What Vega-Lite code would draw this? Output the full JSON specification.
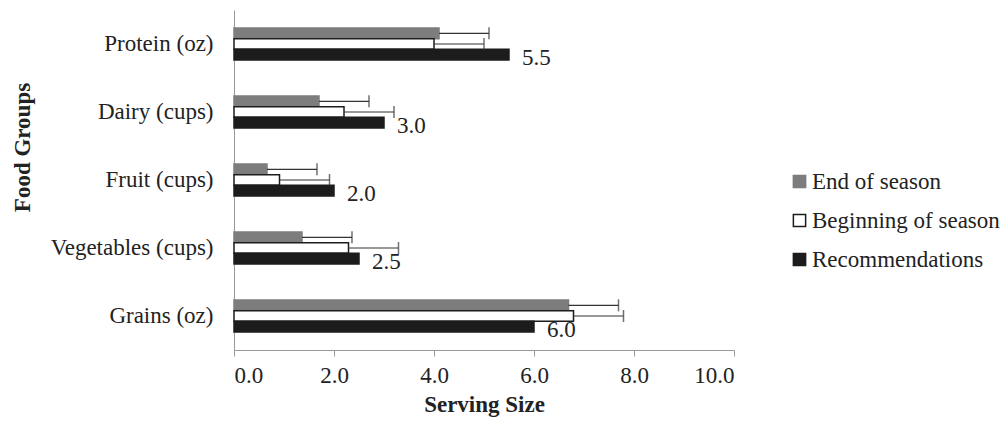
{
  "$schema": "https://vega.github.io/schema/vega-lite/v6.json",
  "width": 500,
  "height": 340,
  "autosize": {"type": "none"},
  "padding": {"left": 234, "top": 10, "right": 274, "bottom": 74},
  "config": {
    "font": "Times New Roman, Liberation Serif, serif",
    "view": {"stroke": null},
    "axis": {"grid": false, "labelFont": "Times New Roman, Liberation Serif, serif", "titleFont": "Times New Roman, Liberation Serif, serif", "labelColor": "#222", "titleColor": "#222", "domainColor": "#999", "tickColor": "#999"},
    "legend": {
      "orient": "none", "legendX": 554, "legendY": 160, "title": null,
      "symbolType": "square", "symbolSize": 150, "symbolStrokeWidth": 1.5,
      "labelFontSize": 23, "labelFont": "Times New Roman, Liberation Serif, serif", "labelColor": "#222",
      "rowPadding": 15, "labelOffset": 1, "labelLimit": 400
    }
  },
  "data": {
    "values": [
      {"group": "Protein (oz)", "series": "End of season", "value": 4.1, "hi": 5.1},
      {"group": "Protein (oz)", "series": "Beginning of season", "value": 4.0, "hi": 5.0},
      {"group": "Protein (oz)", "series": "Recommendations", "value": 5.5, "hi": null},
      {"group": "Dairy (cups)", "series": "End of season", "value": 1.7, "hi": 2.7},
      {"group": "Dairy (cups)", "series": "Beginning of season", "value": 2.2, "hi": 3.2},
      {"group": "Dairy (cups)", "series": "Recommendations", "value": 3.0, "hi": null},
      {"group": "Fruit (cups)", "series": "End of season", "value": 0.66, "hi": 1.66},
      {"group": "Fruit (cups)", "series": "Beginning of season", "value": 0.91, "hi": 1.91},
      {"group": "Fruit (cups)", "series": "Recommendations", "value": 2.0, "hi": null},
      {"group": "Vegetables (cups)", "series": "End of season", "value": 1.36, "hi": 2.36},
      {"group": "Vegetables (cups)", "series": "Beginning of season", "value": 2.29, "hi": 3.29},
      {"group": "Vegetables (cups)", "series": "Recommendations", "value": 2.5, "hi": null},
      {"group": "Grains (oz)", "series": "End of season", "value": 6.69, "hi": 7.69},
      {"group": "Grains (oz)", "series": "Beginning of season", "value": 6.79, "hi": 7.79},
      {"group": "Grains (oz)", "series": "Recommendations", "value": 6.0, "hi": null}
    ]
  },
  "encoding": {
    "y": {
      "field": "group", "type": "nominal",
      "sort": ["Protein (oz)", "Dairy (cups)", "Fruit (cups)", "Vegetables (cups)", "Grains (oz)"],
      "scale": {"paddingInner": 0.53, "paddingOuter": 0.265},
      "axis": {
        "title": "Food Groups", "titleFontSize": 23, "titleFontWeight": "bold",
        "titleAngle": -90, "titleX": -212, "titleY": 137, "titleAlign": "center", "titleBaseline": "middle",
        "labelFontSize": 23, "ticks": false, "tickSize": 0, "labelPadding": 21, "domainColor": "#999"
      }
    },
    "yOffset": {
      "field": "series", "type": "nominal",
      "sort": ["End of season", "Beginning of season", "Recommendations"],
      "scale": {"paddingInner": 0, "paddingOuter": 0}
    }
  },
  "layer": [
    {
      "mark": {"type": "bar", "strokeWidth": 1.5},
      "encoding": {
        "x": {
          "field": "value", "type": "quantitative",
          "scale": {"domain": [0, 10]},
          "axis": {
            "title": "Serving Size", "titleFontSize": 23, "titleFontWeight": "bold", "titlePadding": 6,
            "values": [0, 2, 4, 6, 8, 10], "format": ".1f", "labelFontSize": 23,
            "tickSize": 6, "labelPadding": 8
          }
        },
        "fill": {
          "field": "series", "type": "nominal",
          "scale": {"domain": ["End of season", "Beginning of season", "Recommendations"], "range": ["#7d7d7d", "#ffffff", "#1c1c1c"]}
        },
        "stroke": {
          "field": "series", "type": "nominal",
          "scale": {"domain": ["End of season", "Beginning of season", "Recommendations"], "range": ["#7d7d7d", "#1c1c1c", "#1c1c1c"]}
        }
      }
    },
    {
      "transform": [{"filter": "datum.hi != null"}],
      "mark": {"type": "rule", "color": "#333", "strokeWidth": 1.2},
      "encoding": {
        "x": {"field": "value", "type": "quantitative"},
        "x2": {"field": "hi"}
      }
    },
    {
      "transform": [{"filter": "datum.hi != null"}],
      "mark": {"type": "tick", "orient": "vertical", "color": "#333", "size": 12, "thickness": 1.5},
      "encoding": {
        "x": {"field": "hi", "type": "quantitative"}
      }
    },
    {
      "transform": [{"filter": "datum.series === 'Recommendations'"}],
      "mark": {"type": "text", "align": "left", "baseline": "middle", "dx": 13, "dy": 3, "fontSize": 23, "color": "#222", "font": "Times New Roman, Liberation Serif, serif"},
      "encoding": {
        "x": {"field": "value", "type": "quantitative"},
        "text": {"field": "value", "type": "quantitative", "format": ".1f"}
      }
    }
  ]
}
